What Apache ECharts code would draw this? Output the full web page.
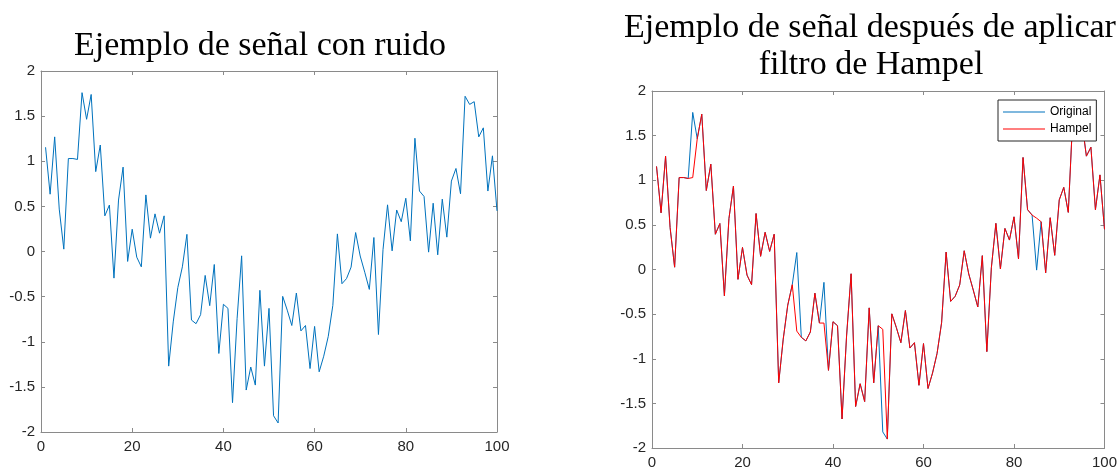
<!DOCTYPE html>
<html>
<head>
<meta charset="utf-8">
<script src="https://cdn.jsdelivr.net/npm/echarts@6/dist/echarts.min.js"></script>
<style>
html,body{margin:0;padding:0;background:#fff;}
#chart{width:1120px;height:470px;}
</style>
</head>
<body>
<div id="chart"></div>
<script>
// Noisy signal (original), sample n = 1..100
const original = [1.155, 0.635, 1.27, 0.47, 0.026, 1.03, 1.03, 1.02, 1.76, 1.465,
  1.74, 0.885, 1.18, 0.395, 0.515, -0.295, 0.57, 0.935, -0.11, 0.247,
  -0.063, -0.17, 0.627, 0.148, 0.417, 0.203, 0.395, -1.27, -0.78, -0.40,
  -0.17, 0.19, -0.76, -0.80, -0.70, -0.265, -0.60, -0.144, -1.13, -0.585,
  -0.63, -1.675, -0.745, -0.048, -1.535, -1.28, -1.48, -0.43, -1.27, -0.63,
  -1.82, -1.90, -0.497, -0.65, -0.82, -0.46, -0.88, -0.82, -1.297, -0.83,
  -1.333, -1.16, -0.94, -0.597, 0.195, -0.357, -0.30, -0.173, 0.21, -0.05,
  -0.23, -0.42, 0.155, -0.92, 0.02, 0.517, 0.007, 0.46, 0.33, 0.59,
  0.118, 1.255, 0.67, 0.61, -0.007, 0.535, -0.037, 0.58, 0.159, 0.78,
  0.92, 0.64, 1.72, 1.63, 1.66, 1.27, 1.37, 0.67, 1.06, 0.45];

// Signal after Hampel filter
const hampel = [1.155, 0.635, 1.27, 0.47, 0.026, 1.03, 1.03, 1.02, 1.03, 1.465,
  1.74, 0.885, 1.18, 0.395, 0.515, -0.295, 0.57, 0.935, -0.11, 0.247,
  -0.063, -0.17, 0.627, 0.148, 0.417, 0.203, 0.395, -1.27, -0.78, -0.40,
  -0.17, -0.69, -0.76, -0.80, -0.70, -0.265, -0.60, -0.60, -1.13, -0.585,
  -0.63, -1.675, -0.745, -0.048, -1.535, -1.28, -1.48, -0.43, -1.27, -0.63,
  -0.67, -1.90, -0.497, -0.65, -0.82, -0.46, -0.88, -0.82, -1.297, -0.83,
  -1.333, -1.16, -0.94, -0.597, 0.195, -0.357, -0.30, -0.173, 0.21, -0.05,
  -0.23, -0.42, 0.155, -0.92, 0.02, 0.517, 0.007, 0.46, 0.33, 0.59,
  0.118, 1.255, 0.67, 0.61, 0.575, 0.535, -0.037, 0.58, 0.159, 0.78,
  0.92, 0.64, 1.72, 1.63, 1.66, 1.27, 1.37, 0.67, 1.06, 0.45];

const xTicks = [0, 20, 40, 60, 80, 100];
const yTicks = [-2, -1.5, -1, -0.5, 0, 0.5, 1, 1.5, 2];

const titleLeft = 'Ejemplo de señal con ruido';
const titleRight1 = 'Ejemplo de señal después de aplicar';
const titleRight2 = 'filtro de Hampel';
const legendNames = ['Original', 'Hampel'];

const toPairs = arr => arr.map((v, i) => [i + 1, v]);

const axisColor = '#8a8a8a';
const labelColor = '#262626';
const tickFont = {color: labelColor, fontFamily: 'Liberation Sans, Arial, sans-serif', fontSize: 15};

function xAx(gridIndex, pos) {
  const main = pos === 'bottom';
  return {
    type: 'value', gridIndex, position: pos,
    min: xTicks[0], max: xTicks[xTicks.length - 1], interval: xTicks[1] - xTicks[0],
    axisLine: {show: true, onZero: false, lineStyle: {color: axisColor, width: 1}},
    axisTick: {show: true, inside: true, length: 4, lineStyle: {color: axisColor}},
    axisLabel: Object.assign({show: main, margin: 7}, tickFont),
    splitLine: {show: false}
  };
}
function yAx(gridIndex, pos) {
  const main = pos === 'left';
  return {
    type: 'value', gridIndex, position: pos,
    min: yTicks[0], max: yTicks[yTicks.length - 1], interval: yTicks[1] - yTicks[0],
    axisLine: {show: true, onZero: false, lineStyle: {color: axisColor, width: 1}},
    axisTick: {show: true, inside: true, length: 4, lineStyle: {color: axisColor}},
    axisLabel: Object.assign({show: main, margin: 6}, tickFont),
    splitLine: {show: false}
  };
}

const serif = 'Liberation Serif, "Times New Roman", serif';
const chart = echarts.init(document.getElementById('chart'), null, {renderer: 'canvas'});
chart.setOption({
  animation: false,
  backgroundColor: '#ffffff',
  grid: [
    {left: 41, top: 71, width: 456, height: 361},
    {left: 652, top: 91, width: 457, height: 360}
  ],
  xAxis: [xAx(0, 'bottom'), xAx(0, 'top'), xAx(1, 'bottom'), xAx(1, 'top')],
  yAxis: [yAx(0, 'left'), yAx(0, 'right'), yAx(1, 'left'), yAx(1, 'right')],
  legend: {
    data: legendNames,
    orient: 'vertical',
    left: 998, top: 100,
    padding: [5, 5, 5, 5],
    icon: 'rect',
    itemWidth: 42, itemHeight: 1, itemGap: 3,
    backgroundColor: '#ffffff',
    borderColor: '#262626', borderWidth: 1,
    textStyle: {color: '#000', fontFamily: 'Liberation Sans, Arial, sans-serif', fontSize: 12, lineHeight: 14}
  },
  graphic: [
    {type: 'text', x: 260, y: 46, style: {text: titleLeft, font: '34px ' + serif, fill: '#000', textAlign: 'center', textVerticalAlign: 'middle'}},
    {type: 'text', x: 870, y: 28, style: {text: titleRight1, font: '34px ' + serif, fill: '#000', textAlign: 'center', textVerticalAlign: 'middle'}},
    {type: 'text', x: 871, y: 65, style: {text: titleRight2, font: '34px ' + serif, fill: '#000', textAlign: 'center', textVerticalAlign: 'middle'}}
  ],
  series: [
    {name: 'Señal', type: 'line', xAxisIndex: 0, yAxisIndex: 0, data: toPairs(original),
      showSymbol: false, symbol: 'none', lineStyle: {color: '#0072BD', width: 1}, itemStyle: {color: '#0072BD'}},
    {name: legendNames[0], type: 'line', xAxisIndex: 2, yAxisIndex: 2, data: toPairs(original),
      showSymbol: false, symbol: 'none', lineStyle: {color: '#0072BD', width: 1}, itemStyle: {color: '#0072BD'}},
    {name: legendNames[1], type: 'line', xAxisIndex: 2, yAxisIndex: 2, data: toPairs(hampel),
      showSymbol: false, symbol: 'none', lineStyle: {color: '#FF0000', width: 1}, itemStyle: {color: '#FF0000'}}
  ]
});
</script>
</body>
</html>
